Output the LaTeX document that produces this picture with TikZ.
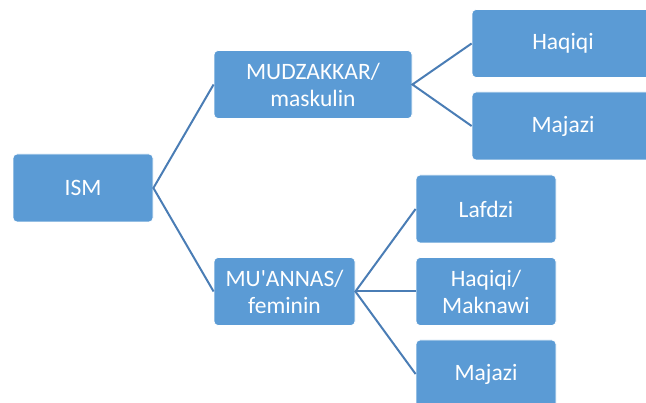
\documentclass[tikz,border=0pt]{standalone}
\usepackage{fontspec}
\setmainfont{Carlito}
\usepackage{xcolor}
\usepackage{tikz}
\usetikzlibrary{positioning}
\definecolor{boxBlue}{HTML}{5B9BD5}
\definecolor{lineBlue}{HTML}{4A7DB5}
\tikzset{ism-line/.style={line width=2pt, color=lineBlue}}
\tikzset{ism-node/.style={draw=white, line width=0.8pt, fill=boxBlue, text=white,
    inner sep=0, rounded corners=4pt, minimum height=68pt, align=center,
    font=\fontsize{23.5}{27}\selectfont}}
\tikzset{wide-node/.style={ism-node, minimum width=198pt}}
\tikzset{mid-node/.style={ism-node, minimum width=182pt}}
\tikzset{narrow-node/.style={ism-node, minimum width=140pt}}

\begin{document}
\begin{tikzpicture}[x=1pt, y=-1pt]
            \clip (0,0) rectangle (646,403);

            \node[narrow-node] (ism) at (83,188) {ISM};
            \node[wide-node] (mudzakkar) at (313,84.5) {MUDZAKKAR/\\maskulin};
            \node[narrow-node, minimum width=141pt] (muannas) at (284.5,291.5) {MU\textquotesingle ANNAS/\\feminin};

            \node[mid-node] (haqiqi1) at (563,43.5) {Haqiqi};
            \node[mid-node] (majazi1) at (563,126) {Majazi};

            \node[narrow-node] (lafdzi) at (486,209) {Lafdzi};
            \node[narrow-node] (maknawi) at (486,291.5) {Haqiqi/\\Maknawi};
            \node[narrow-node] (majazi2) at (486,374) {Majazi};

            \draw[ism-line] (mudzakkar.west) -- (ism.east) -- (muannas.west);
            \draw[ism-line] (haqiqi1.west) -- (mudzakkar.east) -- (majazi1.west);
            \draw[ism-line] (lafdzi.west) -- (muannas.east) -- (majazi2.west);
            \draw[ism-line] (muannas.east) -- (maknawi.west);
        \end{tikzpicture}
\end{document}
